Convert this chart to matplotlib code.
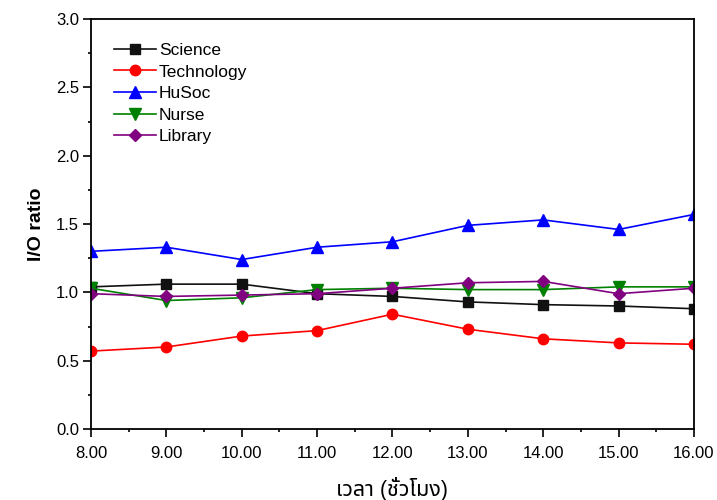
import matplotlib
matplotlib.use("Agg")
import matplotlib.pyplot as plt
from matplotlib.ticker import MultipleLocator

plt.rcParams['font.family'] = ['Liberation Sans', 'Noto Sans Thai', 'DejaVu Sans']

# hours of the day
hours = [8, 9, 10, 11, 12, 13, 14, 15, 16]
tick_labels = ["8.00", "9.00", "10.00", "11.00", "12.00", "13.00", "14.00", "15.00", "16.00"]

science = [1.04, 1.06, 1.06, 0.99, 0.97, 0.93, 0.91, 0.90, 0.88]
technology = [0.57, 0.60, 0.68, 0.72, 0.84, 0.73, 0.66, 0.63, 0.62]
husoc = [1.30, 1.33, 1.24, 1.33, 1.37, 1.49, 1.53, 1.46, 1.57]
nurse = [1.03, 0.94, 0.96, 1.02, 1.03, 1.02, 1.02, 1.04, 1.04]
library = [0.99, 0.97, 0.98, 0.99, 1.03, 1.07, 1.08, 0.99, 1.03]

fig = plt.figure(figsize=(7.17, 5.0), dpi=100)
ax = fig.add_axes([0.1269, 0.142, 0.841, 0.82])

ax.plot(hours, science, color="#111111", marker="s", ms=6.5, lw=1.2, label="Science")
ax.plot(hours, technology, color="#ff0000", marker="o", ms=7.5, lw=1.2, label="Technology")
ax.plot(hours, husoc, color="#0000ff", marker="^", ms=8, lw=1.2, label="HuSoc")
ax.plot(hours, nurse, color="#008000", marker="v", ms=8, lw=1.2, label="Nurse")
ax.plot(hours, library, color="#800080", marker="D", ms=6.5, lw=1.2, label="Library")

ax.set_xlim(8, 16)
ax.set_ylim(0, 3.0)
ax.set_xticks(hours)
ax.set_xticklabels(tick_labels)
ax.xaxis.set_minor_locator(MultipleLocator(0.5))
ax.yaxis.set_major_locator(MultipleLocator(0.5))
ax.yaxis.set_minor_locator(MultipleLocator(0.25))
ax.yaxis.set_major_formatter(plt.FormatStrFormatter("%.1f"))
ax.tick_params(which="both", direction="out", top=False, right=False, labelsize=12)
ax.tick_params(which="major", length=5.5, width=1.2)
ax.tick_params(which="minor", length=2.5, width=1.2)
ax.tick_params(axis="x", which="major", pad=7)
ax.tick_params(axis="y", which="major", pad=3)
for s in ax.spines.values():
    s.set_linewidth(1.3)

ax.set_ylabel("I/O ratio", fontsize=14, fontweight="bold", labelpad=8)
ax.set_xlabel("เวลา (ชั่วโมง)", fontsize=15.5, labelpad=11)

ax.legend(loc="upper left", bbox_to_anchor=(0.012, 0.98), frameon=False,
          fontsize=12.5, handlelength=2.4, labelspacing=0.37, handletextpad=0.2)

fig.savefig("out.png", dpi=100)
